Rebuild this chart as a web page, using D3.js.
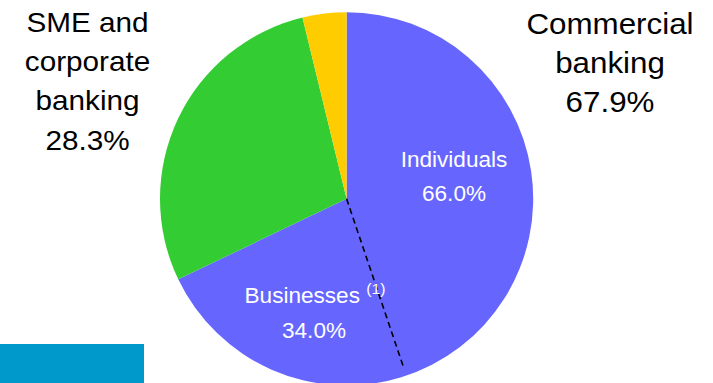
<!DOCTYPE html>
<html>
<head>
<meta charset="utf-8">
<script src="https://cdn.jsdelivr.net/npm/d3@7"></script>
<style>
  html, body { margin: 0; padding: 0; background: #fff; }
  svg { display: block; }
  text { font-family: "Liberation Sans", Arial, sans-serif; }
</style>
</head>
<body>
<svg id="chart" width="713" height="383"></svg>
<script>
// Segment shares (%), drawn clockwise from 12 o'clock
const segments = ["Commercial banking", "SME and corporate banking", "Other"];
const shares = [67.9, 28.3, 3.8];
const colors = ["#6666ff", "#33cc33", "#ffcc00"];

// Split of commercial banking (%)
const subSegments = ["Individuals", "Businesses"];
const subShares = [66.0, 34.0];

const svg = d3.select("#chart");
const W = 713, H = 383;
const cx = 346.6, cy = 198.8, R = 186.6;

// footer band
svg.append("rect")
  .attr("x", 0).attr("y", 344).attr("width", 144).attr("height", H - 344)
  .attr("fill", "#0099cc");

const data = segments.map((s, i) => ({ name: s, value: shares[i], color: colors[i] }));
const pie = d3.pie().value(d => d.value).sort(null);
const arcs = pie(data);
const arc = d3.arc().innerRadius(0).outerRadius(R);

const g = svg.append("g").attr("transform", `translate(${cx},${cy})`);
g.selectAll("path.slice")
  .data(arcs)
  .join("path")
  .attr("class", "slice")
  .attr("d", arc)
  .attr("fill", d => d.data.color);

// divider between individuals and businesses inside the commercial slice
const cb = arcs[0];
const splitAngle = cb.startAngle + (cb.endAngle - cb.startAngle) * subShares[0] / 100;
const lineLen = R * 0.95;
g.append("line")
  .attr("x1", 0).attr("y1", 0)
  .attr("x2", lineLen * Math.sin(splitAngle))
  .attr("y2", -lineLen * Math.cos(splitAngle))
  .attr("stroke", "#000")
  .attr("stroke-width", 1.6)
  .attr("stroke-dasharray", "6,4");

// multi-line label helper
function label(x, lines, baseline, step, size, fill, sx) {
  const t = svg.append("text")
    .attr("text-anchor", "middle")
    .attr("font-size", size)
    .attr("fill", fill)
    .attr("transform", `translate(${x},${baseline}) scale(${sx},1)`);
  lines.forEach((ln, i) => {
    t.append("tspan").attr("x", 0).attr("y", i * step).text(ln);
  });
  return t;
}

const fmt = v => v.toFixed(1) + "%";

label(87.5, ["SME and", "corporate", "banking", fmt(shares[1])], 31.5, 39.4, 27, "#000", 1.1);
label(610, ["Commercial", "banking", fmt(shares[0])], 34, 38.8, 29, "#000", 1.08);
label(454, [subSegments[0], fmt(subShares[0])], 166.5, 34.5, 21.5, "#fff", 1.05);

// businesses label with superscript note
const bt = svg.append("text")
  .attr("text-anchor", "middle")
  .attr("font-size", 21.5)
  .attr("fill", "#fff")
  .attr("transform", `translate(315,303) scale(1.05,1)`);
bt.append("tspan").attr("x", 0).attr("y", 0).text(subSegments[1] + " ");
bt.append("tspan").attr("font-size", 15).attr("dy", -9).text("(1)");
label(314, [fmt(subShares[1])], 338.3, 0, 21.5, "#fff", 1.05);
</script>
</body>
</html>
